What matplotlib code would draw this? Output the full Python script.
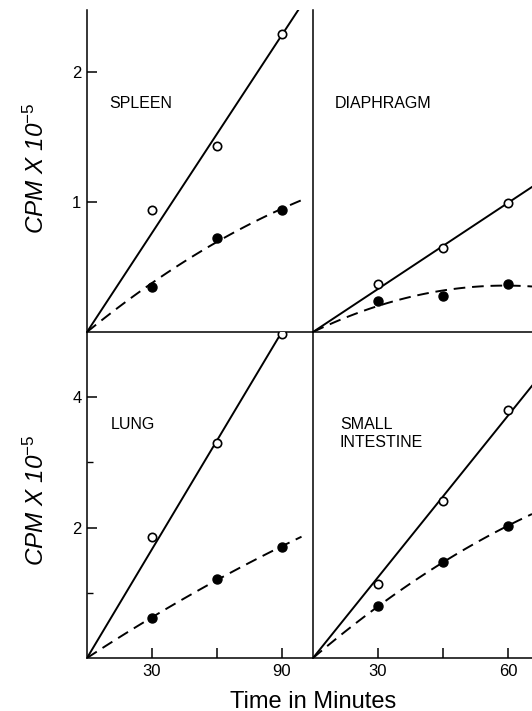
import matplotlib
matplotlib.use("Agg")
import matplotlib.pyplot as plt
from matplotlib.ticker import FixedLocator
import numpy as np

# time points (minutes); left panels run 30/60/90, right panels 30/45/60
left_minutes = [30, 60, 90]
right_minutes = [30, 45, 60]

# CPM x 10^-5, open circles (solid line) and closed circles (dashed line)
spleen_open = [0.94, 1.43, 2.29]
spleen_closed = [0.35, 0.72, 0.94]
diaphragm_open = [0.37, 0.65, 0.99]
diaphragm_closed = [0.24, 0.28, 0.37]
lung_open = [1.85, 3.30, 4.97]
lung_closed = [0.61, 1.21, 1.71]
intestine_open = [1.14, 2.41, 3.80]
intestine_closed = [0.79, 1.47, 2.03]

plt.rcParams['font.family'] = ['Liberation Sans', 'DejaVu Sans']
plt.rcParams['mathtext.fontset'] = 'custom'
plt.rcParams['mathtext.rm'] = 'Liberation Sans'
plt.rcParams['mathtext.it'] = 'Liberation Sans:italic'
plt.rcParams['mathtext.default'] = 'it'

fig = plt.figure(figsize=(5.32, 7.11), dpi=100)

lx, lw = 87 / 532, 226 / 532
rx, rw = 313 / 532, 219 / 532
ty, th = 379 / 711, 322 / 711
by, bh = 53 / 711, 326 / 711

ax_spleen = fig.add_axes([lx, ty, lw, th])
ax_diaph = fig.add_axes([rx, ty, rw, th])
ax_lung = fig.add_axes([lx, by, lw, bh])
ax_int = fig.add_axes([rx, by, rw, bh])


def draw(ax, t, y_open, y_closed, t0, tmax, dash_end):
    t = np.array(t, dtype=float)
    d = t - t0
    yo = np.array(y_open)
    yc = np.array(y_closed)
    # straight line through the origin for open circles
    k = np.sum(d * yo) / np.sum(d * d)
    xs = np.linspace(t0, tmax, 50)
    ax.plot(xs, k * (xs - t0), color='black', lw=1.4, zorder=2)
    # curved fit through the origin for closed circles
    A = np.column_stack([d, d ** 2])
    a, b = np.linalg.lstsq(A, yc, rcond=None)[0]
    xc = np.linspace(t0, dash_end, 100)
    ax.plot(xc, a * (xc - t0) + b * (xc - t0) ** 2, color='black', lw=1.4,
            dashes=(6, 3.5), zorder=2)
    ax.plot(t, yo, 'o', ms=6, mfc='white', mec='black', mew=1.2, zorder=4)
    ax.plot(t, yc, 'o', ms=6.5, color='black', zorder=4)
    ax.set_xlim(t0, tmax)
    ax.patch.set_visible(False)
    for s in ['top', 'right']:
        ax.spines[s].set_visible(False)
    for s in ['left', 'bottom']:
        ax.spines[s].set_linewidth(1.1)
    ax.tick_params(direction='in', length=7, width=1.1, labelsize=12, pad=4)
    ax.tick_params(which='minor', direction='in', length=4, width=1.0)


draw(ax_spleen, left_minutes, spleen_open, spleen_closed, 0, 104.3, 99)
draw(ax_diaph, right_minutes, diaphragm_open, diaphragm_closed, 15, 65.5, 65.5)
draw(ax_lung, left_minutes, lung_open, lung_closed, 0, 104.3, 99)
draw(ax_int, right_minutes, intestine_open, intestine_closed, 15, 65.5, 65.5)

ax_spleen.set_ylim(0, 2.477)
ax_diaph.set_ylim(0, 2.477)
ax_lung.set_ylim(0, 5.0)
ax_int.set_ylim(0, 5.0)

ax_spleen.set_yticks([1, 2])
ax_spleen.set_yticklabels(['1', '2'])
ax_lung.set_yticks([2, 4])
ax_lung.set_yticklabels(['2', '4'])
ax_lung.yaxis.set_minor_locator(FixedLocator([1, 3]))
ax_diaph.set_yticks([])
ax_int.set_yticks([])
ax_spleen.set_xticks([])
ax_diaph.set_xticks([])
ax_lung.set_xticks(left_minutes)
ax_lung.set_xticklabels(['30', '', '90'])
ax_int.set_xticks(right_minutes)
ax_int.set_xticklabels(['30', '', '60'])

lab = dict(fontsize=11.5, ha='left', va='center')
ax_spleen.text(0.10, 0.71, 'SPLEEN', transform=ax_spleen.transAxes, **lab)
ax_diaph.text(0.10, 0.71, 'DIAPHRAGM', transform=ax_diaph.transAxes, **lab)
ax_lung.text(0.106, 0.715, 'LUNG', transform=ax_lung.transAxes, **lab)
ax_int.text(0.123, 0.69, 'SMALL\nINTESTINE', transform=ax_int.transAxes,
            linespacing=1.25, **lab)

ylab = 'CPM X 10$^{-5}$'
fig.text(36 / 532, 1 - 168 / 711, ylab, rotation=90, fontsize=17.5,
         style='italic', ha='center', va='center')
fig.text(36 / 532, 1 - 500 / 711, ylab, rotation=90, fontsize=17.5,
         style='italic', ha='center', va='center')
fig.text(313 / 532, 3.5 / 711, 'Time in Minutes', fontsize=17,
         ha='center', va='baseline')

fig.savefig('out.png', dpi=100)
